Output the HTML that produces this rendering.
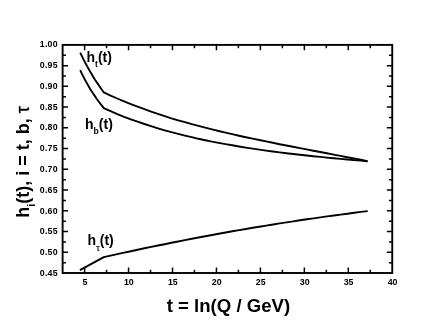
<!DOCTYPE html>
<html><head><meta charset="utf-8"><style>
html,body{margin:0;padding:0;background:#fff;}
svg{display:block;will-change:transform;font-family:"Liberation Sans",sans-serif;font-weight:bold;fill:#000;}
.tk{font-size:8.8px;}
.ti{font-size:18.6px;}
.sb{font-size:11px;}
.ty{font-size:18px;}
.tau{font-weight:normal;stroke:#000;stroke-width:0.35px;}
.lb{font-size:14px;}
.ss{font-size:8.6px;}
.st{font-size:9px;font-weight:normal;stroke:#000;stroke-width:0.2px;}
</style></head><body>
<svg width="432" height="323" viewBox="0 0 432 323">
<rect width="432" height="323" fill="#fff"/>
<rect x="62.62" y="44.9" width="329.62" height="228.1" fill="none" stroke="#000" stroke-width="1.9"/>
<path d="M84.60,273.0 v-5.4 M84.60,44.9 v5.4 M106.57,273.0 v-3.3 M106.57,44.9 v3.3 M128.55,273.0 v-5.4 M128.55,44.9 v5.4 M150.52,273.0 v-3.3 M150.52,44.9 v3.3 M172.50,273.0 v-5.4 M172.50,44.9 v5.4 M194.47,273.0 v-3.3 M194.47,44.9 v3.3 M216.45,273.0 v-5.4 M216.45,44.9 v5.4 M238.42,273.0 v-3.3 M238.42,44.9 v3.3 M260.40,273.0 v-5.4 M260.40,44.9 v5.4 M282.38,273.0 v-3.3 M282.38,44.9 v3.3 M304.35,273.0 v-5.4 M304.35,44.9 v5.4 M326.32,273.0 v-3.3 M326.32,44.9 v3.3 M348.30,273.0 v-5.4 M348.30,44.9 v5.4 M370.27,273.0 v-3.3 M370.27,44.9 v3.3 M62.62,262.63 h3.3 M392.25,262.63 h-3.3 M62.62,252.26 h5.4 M392.25,252.26 h-5.4 M62.62,241.90 h3.3 M392.25,241.90 h-3.3 M62.62,231.53 h5.4 M392.25,231.53 h-5.4 M62.62,221.16 h3.3 M392.25,221.16 h-3.3 M62.62,210.79 h5.4 M392.25,210.79 h-5.4 M62.62,200.42 h3.3 M392.25,200.42 h-3.3 M62.62,190.05 h5.4 M392.25,190.05 h-5.4 M62.62,179.69 h3.3 M392.25,179.69 h-3.3 M62.62,169.32 h5.4 M392.25,169.32 h-5.4 M62.62,158.95 h3.3 M392.25,158.95 h-3.3 M62.62,148.58 h5.4 M392.25,148.58 h-5.4 M62.62,138.21 h3.3 M392.25,138.21 h-3.3 M62.62,127.85 h5.4 M392.25,127.85 h-5.4 M62.62,117.48 h3.3 M392.25,117.48 h-3.3 M62.62,107.11 h5.4 M392.25,107.11 h-5.4 M62.62,96.74 h3.3 M392.25,96.74 h-3.3 M62.62,86.37 h5.4 M392.25,86.37 h-5.4 M62.62,76.00 h3.3 M392.25,76.00 h-3.3 M62.62,65.64 h5.4 M392.25,65.64 h-5.4 M62.62,55.27 h3.3 M392.25,55.27 h-3.3" stroke="#000" stroke-width="1.5" fill="none"/>
<path d="M80.2,52.6 L81.9,56.1 L83.6,59.6 L85.4,63.0 L87.2,66.4 L89.1,69.8 L91.0,73.1 L93.0,76.4 L95.0,79.7 L97.2,82.9 L99.3,86.1 L101.5,89.3 L103.8,92.4 L110.6,95.6 L117.3,98.5 L124.1,101.4 L130.8,104.1 L137.6,106.7 L144.4,109.2 L151.1,111.6 L157.9,113.9 L164.7,116.1 L171.4,118.3 L178.2,120.3 L184.9,122.2 L191.7,124.1 L198.5,125.9 L205.2,127.7 L212.0,129.4 L218.7,131.0 L225.5,132.6 L232.3,134.2 L239.0,135.7 L245.8,137.2 L252.6,138.6 L259.3,140.0 L266.1,141.4 L272.8,142.8 L279.6,144.2 L286.4,145.5 L293.1,146.8 L299.9,148.1 L306.6,149.4 L313.4,150.7 L320.2,152.0 L326.9,153.3 L333.7,154.6 L340.5,155.9 L347.2,157.2 L354.0,158.5 L360.7,159.8 L367.5,161.2" stroke="#000" stroke-width="1.9" fill="none" stroke-linejoin="round"/>
<path d="M80.2,70.2 L81.8,73.6 L83.5,76.9 L85.2,80.2 L87.0,83.4 L88.9,86.7 L90.8,89.9 L92.8,93.0 L94.9,96.1 L97.0,99.2 L99.2,102.2 L101.5,105.2 L103.8,108.2 L110.6,111.2 L117.3,114.1 L124.1,116.8 L130.8,119.3 L137.6,121.7 L144.4,124.0 L151.1,126.2 L157.9,128.3 L164.7,130.3 L171.4,132.2 L178.2,133.9 L184.9,135.6 L191.7,137.2 L198.5,138.8 L205.2,140.2 L212.0,141.6 L218.7,142.9 L225.5,144.1 L232.3,145.3 L239.0,146.5 L245.8,147.6 L252.6,148.6 L259.3,149.6 L266.1,150.6 L272.8,151.5 L279.6,152.4 L286.4,153.2 L293.1,154.0 L299.9,154.8 L306.6,155.5 L313.4,156.3 L320.2,156.9 L326.9,157.6 L333.7,158.3 L340.5,158.9 L347.2,159.5 L354.0,160.1 L360.7,160.6 L367.5,161.2" stroke="#000" stroke-width="1.9" fill="none" stroke-linejoin="round"/>
<path d="M79.9,270.2 L103.8,257.1 L110.6,255.6 L117.3,254.1 L124.1,252.6 L130.9,251.2 L137.6,249.7 L144.4,248.3 L151.2,246.9 L157.9,245.5 L164.7,244.2 L171.5,242.8 L178.2,241.5 L185.0,240.1 L191.8,238.8 L198.5,237.5 L205.3,236.3 L212.1,235.0 L218.8,233.8 L225.6,232.5 L232.4,231.3 L239.1,230.1 L245.9,229.0 L252.7,227.8 L259.4,226.7 L266.2,225.6 L273.0,224.5 L279.7,223.4 L286.5,222.4 L293.3,221.4 L300.0,220.3 L306.8,219.3 L313.6,218.4 L320.3,217.4 L327.1,216.4 L333.9,215.5 L340.6,214.6 L347.4,213.7 L354.2,212.8 L360.9,211.9 L367.7,211.1" stroke="#000" stroke-width="1.9" fill="none" stroke-linejoin="round"/>
<text x="57.8" y="276.12" text-anchor="end" class="tk" style="letter-spacing:0.22px">0.45</text>
<text x="57.8" y="255.30" text-anchor="end" class="tk" style="letter-spacing:0.22px">0.50</text>
<text x="57.8" y="234.47" text-anchor="end" class="tk" style="letter-spacing:0.22px">0.55</text>
<text x="57.8" y="213.65" text-anchor="end" class="tk" style="letter-spacing:0.22px">0.60</text>
<text x="57.8" y="192.82" text-anchor="end" class="tk" style="letter-spacing:0.22px">0.65</text>
<text x="57.8" y="172.00" text-anchor="end" class="tk" style="letter-spacing:0.22px">0.70</text>
<text x="57.8" y="151.17" text-anchor="end" class="tk" style="letter-spacing:0.22px">0.75</text>
<text x="57.8" y="130.35" text-anchor="end" class="tk" style="letter-spacing:0.22px">0.80</text>
<text x="57.8" y="109.52" text-anchor="end" class="tk" style="letter-spacing:0.22px">0.85</text>
<text x="57.8" y="88.70" text-anchor="end" class="tk" style="letter-spacing:0.22px">0.90</text>
<text x="57.8" y="67.87" text-anchor="end" class="tk" style="letter-spacing:0.22px">0.95</text>
<text x="57.8" y="47.05" text-anchor="end" class="tk" style="letter-spacing:0.22px">1.00</text>
<text x="84.90" y="285.0" text-anchor="middle" class="tk">5</text>
<text x="128.85" y="285.0" text-anchor="middle" class="tk">10</text>
<text x="172.80" y="285.0" text-anchor="middle" class="tk">15</text>
<text x="216.75" y="285.0" text-anchor="middle" class="tk">20</text>
<text x="260.70" y="285.0" text-anchor="middle" class="tk">25</text>
<text x="304.65" y="285.0" text-anchor="middle" class="tk">30</text>
<text x="348.60" y="285.0" text-anchor="middle" class="tk">35</text>
<text x="392.55" y="285.0" text-anchor="middle" class="tk">40</text>
<text x="228.4" y="312.3" text-anchor="middle" class="ti">t = ln(Q / GeV)</text>
<text transform="translate(29,161.9) rotate(-90)" text-anchor="middle" class="ty">h<tspan class="sb" dy="6">i</tspan><tspan dy="-6">(t), i = t, b, </tspan><tspan class="tau">τ</tspan></text>
<text x="86.5" y="62.1" class="lb">h<tspan class="ss" dy="4.5">t</tspan><tspan dy="-4.5">(t)</tspan></text>
<text x="85" y="128.7" class="lb">h<tspan class="ss" dy="5.5">b</tspan><tspan dy="-5.5">(t)</tspan></text>
<text x="87.6" y="245.4" class="lb">h<tspan class="st" dy="5.3">τ</tspan><tspan dy="-5.3">(t)</tspan></text>
</svg>
</body></html>
